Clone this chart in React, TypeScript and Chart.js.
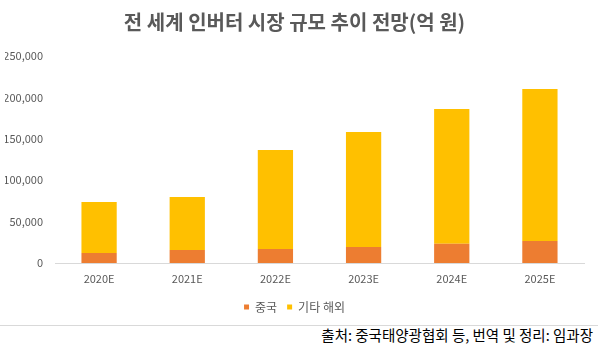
import React, { useEffect, useRef } from "react";
import { Chart, registerables } from "chart.js";

Chart.register(...registerables);

const categories = ["2020E", "2021E", "2022E", "2023E", "2024E", "2025E"];
const chinaValues = [12000, 15700, 17000, 19300, 23300, 26600];
const overseasValues = [61700, 64000, 119500, 138900, 162700, 183400];
const seriesNames = ["중국", "기타 해외"];
const yTickStep = 50000;
const yMax = 250000;
const titleText = "전 세계 인버터 시장 규모 추이 전망(억 원)";
const sourceText = "출처: 중국태양광협회 등, 번역 및 정리: 임과장";

const FONT = "'Noto Sans CJK KR', 'Noto Sans', sans-serif";

export default function App() {
  const ref = useRef<HTMLCanvasElement>(null);
  useEffect(() => {
    if (!ref.current) return;
    const chart = new Chart(ref.current, {
      type: "bar",
      data: {
        labels: categories,
        datasets: [
          {
            label: seriesNames[0],
            data: chinaValues,
            backgroundColor: "#ED7D31",
            barPercentage: 0.4,
            categoryPercentage: 1,
          },
          {
            label: seriesNames[1],
            data: overseasValues,
            backgroundColor: "#FFC000",
            barPercentage: 0.4,
            categoryPercentage: 1,
          },
        ],
      },
      options: {
        responsive: false,
        animation: false,
        layout: { padding: { left: 5, right: 14, top: 0, bottom: 1 } },
        plugins: {
          title: {
            display: true,
            text: titleText,
            color: "#595959",
            font: { family: FONT, size: 20, weight: "bold" },
            padding: { top: 10, bottom: 22 },
          },
          legend: {
            position: "bottom",
            labels: {
              boxWidth: 5,
              boxHeight: 5,
              padding: 10,
              color: "#595959",
              font: { family: FONT, size: 12 },
            },
          },
          tooltip: { enabled: false },
        },
        scales: {
          x: {
            stacked: true,
            grid: { display: false, drawTicks: false },
            border: { display: true, color: "#d9d9d9", width: 1 },
            ticks: {
              color: "#595959",
              font: { family: FONT, size: 11 },
              padding: 9,
            },
            afterFit: (s: any) => {
              s.height = 28;
            },
          },
          y: {
            stacked: true,
            min: 0,
            max: yMax,
            grid: { display: false, drawTicks: false },
            border: { display: false },
            ticks: {
              stepSize: yTickStep,
              color: "#595959",
              font: { family: FONT, size: 11 },
              padding: 12,
              callback: (v: any) => Number(v).toLocaleString("en-US"),
            },
            afterFit: (s: any) => {
              s.width = 50;
            },
          },
        },
      },
    });
    return () => chart.destroy();
  }, []);
  return (
    <div style={{ position: "fixed", left: 0, top: 0, width: 598, height: 346, background: "#fff" }}>
      <canvas ref={ref} width={598} height={324} style={{ display: "block" }} />
      <div
        style={{
          position: "absolute",
          left: 0,
          top: 325,
          width: 598,
          height: 21,
          borderTop: "1px solid #d9d9d9",
          boxSizing: "border-box",
        }}
      />
      <div
        style={{
          position: "absolute",
          right: 5,
          top: 326,
          height: 18,
          lineHeight: "18px",
          fontFamily: FONT,
          fontSize: 14.5,
          color: "#000",
          whiteSpace: "nowrap",
        }}
      >
        {sourceText}
      </div>
    </div>
  );
}
